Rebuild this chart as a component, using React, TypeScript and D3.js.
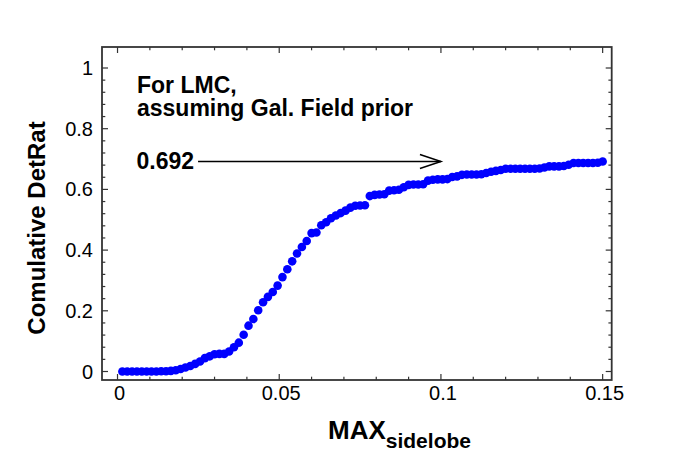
import { useEffect, useRef } from "react";
import * as d3 from "d3";

// cumulative DetRat sampled every 0.0015 in MAX_sidelobe, starting at 0.0015
const xStep = 0.0015;
const detRat = [
  0, 0, 0, 0, 0, 0, 0, 0, 0.001, 0.001,
  0.002, 0.004, 0.008, 0.013, 0.018, 0.025, 0.033, 0.044, 0.05, 0.057,
  0.058, 0.058, 0.066, 0.08, 0.095, 0.121, 0.151, 0.173, 0.202, 0.228,
  0.246, 0.262, 0.283, 0.311, 0.337, 0.363, 0.389, 0.41, 0.43, 0.456,
  0.458, 0.482, 0.492, 0.505, 0.514, 0.522, 0.53, 0.54, 0.546, 0.547,
  0.548, 0.578, 0.582, 0.583, 0.584, 0.596, 0.597, 0.599, 0.607, 0.615,
  0.616, 0.616, 0.617, 0.629, 0.632, 0.633, 0.633, 0.634, 0.641, 0.643,
  0.648, 0.649, 0.649, 0.649, 0.65, 0.654, 0.658, 0.661, 0.664, 0.668,
  0.668, 0.668, 0.668, 0.668, 0.668, 0.668, 0.669, 0.672, 0.676, 0.676,
  0.676, 0.677, 0.681, 0.687, 0.687, 0.687, 0.687, 0.687, 0.688, 0.692,
];

const xMajor = [0, 0.05, 0.1, 0.15];
const xMajorLabels = ["0", "0.05", "0.1", "0.15"];
const yMajor = [0, 0.2, 0.4, 0.6, 0.8, 1];
const yMajorLabels = ["0", "0.2", "0.4", "0.6", "0.8", "1"];

const annotationLines = ["For LMC,", "assuming Gal. Field prior"];
const arrowLabel = "0.692";
const arrowValue = 0.692;
const arrowFrom = 0.0249;
const arrowTo = 0.1;

const W = 680;
const H = 476;
const FONT = "'Liberation Sans', Arial, Helvetica, sans-serif";

export default function App() {
  const svgRef = useRef<SVGSVGElement>(null);

  useEffect(() => {
    if (!svgRef.current) return;
    const svg = d3.select(svgRef.current);
    svg.selectAll("*").remove();

    const left = 102, right = 611.7, top = 47, bottom = 380;

    const x = d3.scaleLinear().domain([-0.0048, 0.1528]).range([left, right]);
    const y = d3.scaleLinear().domain([-0.028, 1.0692]).range([bottom, top]);

    const points = detRat.map((v, i) => ({ x: (i + 1) * xStep, y: v }));

    // dots
    svg.append("g")
      .selectAll("circle")
      .data(points)
      .join("circle")
      .attr("cx", d => x(d.x))
      .attr("cy", d => y(d.y))
      .attr("r", 4.3)
      .attr("fill", "#0000ff");

    // frame
    svg.append("rect")
      .attr("x", left)
      .attr("y", top)
      .attr("width", right - left)
      .attr("height", bottom - top)
      .attr("fill", "none")
      .attr("stroke", "#333")
      .attr("stroke-width", 1.8);

    const ticks = svg.append("g").attr("stroke", "#333").attr("stroke-width", 1.2);
    const xMinor = d3.range(0, 0.1501, 0.01);
    const yMinor = d3.range(0, 1.0001, 0.04);

    xMinor.forEach(v => {
      const major = xMajor.some(m => Math.abs(m - v) < 1e-6);
      const len = major ? 6 : 3.3;
      ticks.append("line").attr("x1", x(v)).attr("x2", x(v)).attr("y1", bottom).attr("y2", bottom - len);
      ticks.append("line").attr("x1", x(v)).attr("x2", x(v)).attr("y1", top).attr("y2", top + len);
    });
    yMinor.forEach(v => {
      const major = yMajor.some(m => Math.abs(m - v) < 1e-6);
      const len = major ? 6 : 3.3;
      ticks.append("line").attr("y1", y(v)).attr("y2", y(v)).attr("x1", left).attr("x2", left + len);
      ticks.append("line").attr("y1", y(v)).attr("y2", y(v)).attr("x1", right).attr("x2", right - len);
    });

    // tick labels
    svg.append("g")
      .selectAll("text")
      .data(xMajor)
      .join("text")
      .attr("x", d => x(d) + 2)
      .attr("y", 400)
      .attr("text-anchor", "middle")
      .attr("font-family", FONT)
      .attr("font-size", 20)
      .text((d, i) => xMajorLabels[i]);

    svg.append("g")
      .selectAll("text")
      .data(yMajor)
      .join("text")
      .attr("x", 93)
      .attr("y", d => y(d) + 7)
      .attr("text-anchor", "end")
      .attr("font-family", FONT)
      .attr("font-size", 20)
      .text((d, i) => yMajorLabels[i]);

    // axis titles
    svg.append("text")
      .attr("transform", "translate(45,228) rotate(-90)")
      .attr("text-anchor", "middle")
      .attr("font-family", FONT)
      .attr("font-weight", "bold")
      .attr("font-size", 24)
      .text("Comulative DetRat");

    const xt = svg.append("text")
      .attr("x", 328)
      .attr("y", 438.5)
      .attr("font-family", FONT)
      .attr("font-weight", "bold")
      .attr("font-size", 26);
    xt.append("tspan").text("MAX");
    xt.append("tspan").attr("font-size", 21).attr("dy", 9).text("sidelobe");

    // annotation
    annotationLines.forEach((t, i) => {
      svg.append("text")
        .attr("x", 137)
        .attr("y", 93.3 + i * 22.5)
        .attr("font-family", FONT)
        .attr("font-weight", "bold")
        .attr("font-size", 23)
        .text(t);
    });

    svg.append("text")
      .attr("x", 136.5)
      .attr("y", 169)
      .attr("font-family", FONT)
      .attr("font-weight", "bold")
      .attr("font-size", 23)
      .text(arrowLabel);

    const ay = y(arrowValue);
    const ax2 = x(arrowTo);
    svg.append("line")
      .attr("x1", x(arrowFrom))
      .attr("x2", ax2)
      .attr("y1", ay)
      .attr("y2", ay)
      .attr("stroke", "#000")
      .attr("stroke-width", 1.5);
    svg.append("path")
      .attr("d", `M${ax2 - 21},${ay - 7} L${ax2},${ay} L${ax2 - 21},${ay + 7}`)
      .attr("fill", "none")
      .attr("stroke", "#000")
      .attr("stroke-width", 1.5);
  }, []);

  return (
    <svg
      ref={svgRef}
      width={W}
      height={H}
      style={{ position: "absolute", left: 0, top: 0, display: "block", background: "#fff" }}
    />
  );
}
